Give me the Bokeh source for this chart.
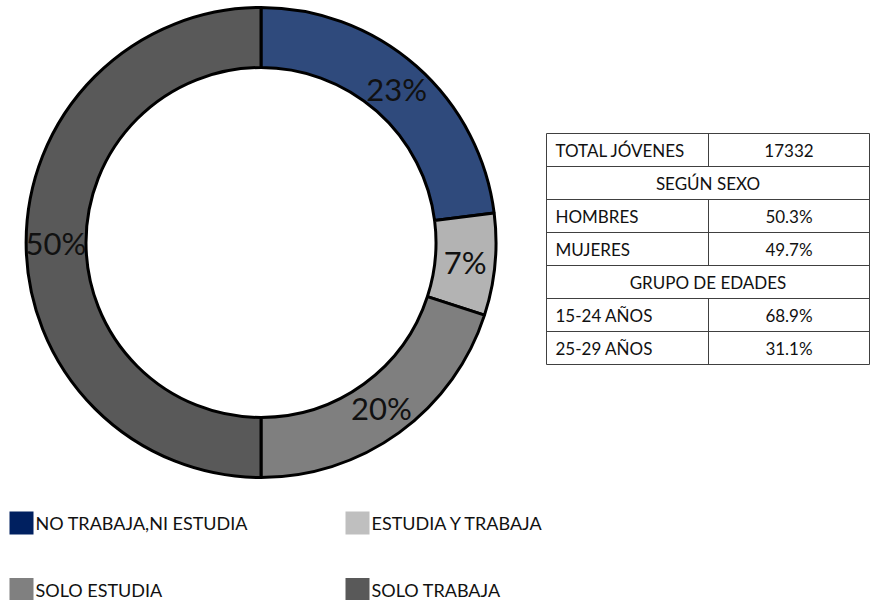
import math
from bokeh.plotting import figure
from bokeh.models import Range1d, ColumnDataSource
from bokeh.core.properties import value
from bokeh.embed import file_html
from bokeh.resources import INLINE

# ---- data ----
categories = ["NO TRABAJA,NI ESTUDIA", "ESTUDIA Y TRABAJA", "SOLO ESTUDIA", "SOLO TRABAJA"]
shares = [23, 7, 20, 50]
slice_colors = ["#2F4A7C", "#B3B3B3", "#7F7F7F", "#595959"]
legend_colors = ["#002060", "#BFBFBF", "#808080", "#595959"]

total_label = "TOTAL JÓVENES"
total_value = 17332
sexo_header = "SEGÚN SEXO"
sexo_labels = ["HOMBRES", "MUJERES"]
sexo_values = [50.3, 49.7]
edad_header = "GRUPO DE EDADES"
edad_labels = ["15-24 AÑOS", "25-29 AÑOS"]
edad_values = [68.9, 31.1]

FONT = "Lato"
W, H = 871, 600

def Y(sy):  # screen y (image coords) -> data y
    return H - sy

p = figure(width=W, height=H, output_backend="svg", toolbar_location=None,
           x_range=Range1d(0, W), y_range=Range1d(0, H),
           min_border=0, outline_line_color=None)
p.axis.visible = False
p.xgrid.visible = False
p.ygrid.visible = False
p.background_fill_color = "white"

# ---- donut ----
cx, cy = 260.5, Y(242)
r_in, r_out = 175, 235
tot = sum(shares)
starts, ends, mids = [], [], []
acc = 0
for s in shares:
    a0 = math.pi / 2 - 2 * math.pi * acc / tot
    acc += s
    a1 = math.pi / 2 - 2 * math.pi * acc / tot
    starts.append(a0)
    ends.append(a1)
    mids.append((a0 + a1) / 2)
r_mid = (r_in + r_out) / 2
src = ColumnDataSource(dict(
    x=[cx] * len(shares), y=[cy] * len(shares), start=starts, end=ends, color=slice_colors,
    lx=[cx + r_mid * math.cos(m) for m in mids],
    ly=[cy + r_mid * math.sin(m) for m in mids],
    label=[f"{s:.0f}%" for s in shares],
))
p.annular_wedge(x="x", y="y", inner_radius=r_in, outer_radius=r_out,
                start_angle="start", end_angle="end", direction="clock",
                fill_color="color", line_color="black", line_width=3, source=src)
p.text(x="lx", y="ly", text="label", source=src, text_align="center",
       text_baseline="middle", text_font=value(FONT), text_font_size="31px",
       text_color="#111111")

# ---- table ----
tx0, tx1, tdiv = 546, 869, 708
ty0, row_h = 133, 33
rows = [(total_label, f"{total_value}"), (sexo_header, None)]
rows += [(l, f"{v:.1f}%") for l, v in zip(sexo_labels, sexo_values)]
rows += [(edad_header, None)]
rows += [(l, f"{v:.1f}%") for l, v in zip(edad_labels, edad_values)]
n = len(rows)
hx0, hx1, hy = [], [], []
for i in range(n + 1):
    hx0.append(tx0); hx1.append(tx1); hy.append(Y(ty0 + i * row_h))
p.segment(x0=hx0, y0=hy, x1=hx1, y1=hy, line_color="#404040", line_width=1)
p.segment(x0=[tx0, tx1], y0=[Y(ty0)] * 2, x1=[tx0, tx1], y1=[Y(ty0 + n * row_h)] * 2,
          line_color="#404040", line_width=1)
vx, vy0, vy1 = [], [], []
lt_x, lt_y, lt_t, ct_x, ct_y, ct_t = [], [], [], [], [], []
for i, (lab, val) in enumerate(rows):
    ymid = Y(ty0 + i * row_h + row_h / 2)
    if val is None:
        ct_x.append((tx0 + tx1) / 2); ct_y.append(ymid); ct_t.append(lab)
    else:
        vx.append(tdiv); vy0.append(Y(ty0 + i * row_h)); vy1.append(Y(ty0 + (i + 1) * row_h))
        lt_x.append(tx0 + 9); lt_y.append(ymid); lt_t.append(lab)
        ct_x.append((tdiv + tx1) / 2); ct_y.append(ymid); ct_t.append(val)
p.segment(x0=vx, y0=vy0, x1=vx, y1=vy1, line_color="#404040", line_width=1)
p.text(x=lt_x, y=lt_y, text=lt_t, text_align="left", text_baseline="middle",
       text_font=value(FONT), text_font_size="17px", text_color="#111111")
p.text(x=ct_x, y=ct_y, text=ct_t, text_align="center", text_baseline="middle",
       text_font=value(FONT), text_font_size="17px", text_color="#111111")

# ---- legend ----
leg_x = [9, 345, 9, 345]
leg_y = [522.5, 522.5, 589, 589]
p.rect(x=[x + 12 for x in leg_x], y=[Y(v) for v in leg_y], width=24, height=23,
       fill_color=legend_colors, line_color=None)
p.text(x=[x + 26 for x in leg_x], y=[Y(v) for v in leg_y], text=categories,
       text_align="left", text_baseline="middle", text_font=value(FONT),
       text_font_size="18px", text_color="#111111")

open("out.html", "w").write(file_html(p, INLINE))
